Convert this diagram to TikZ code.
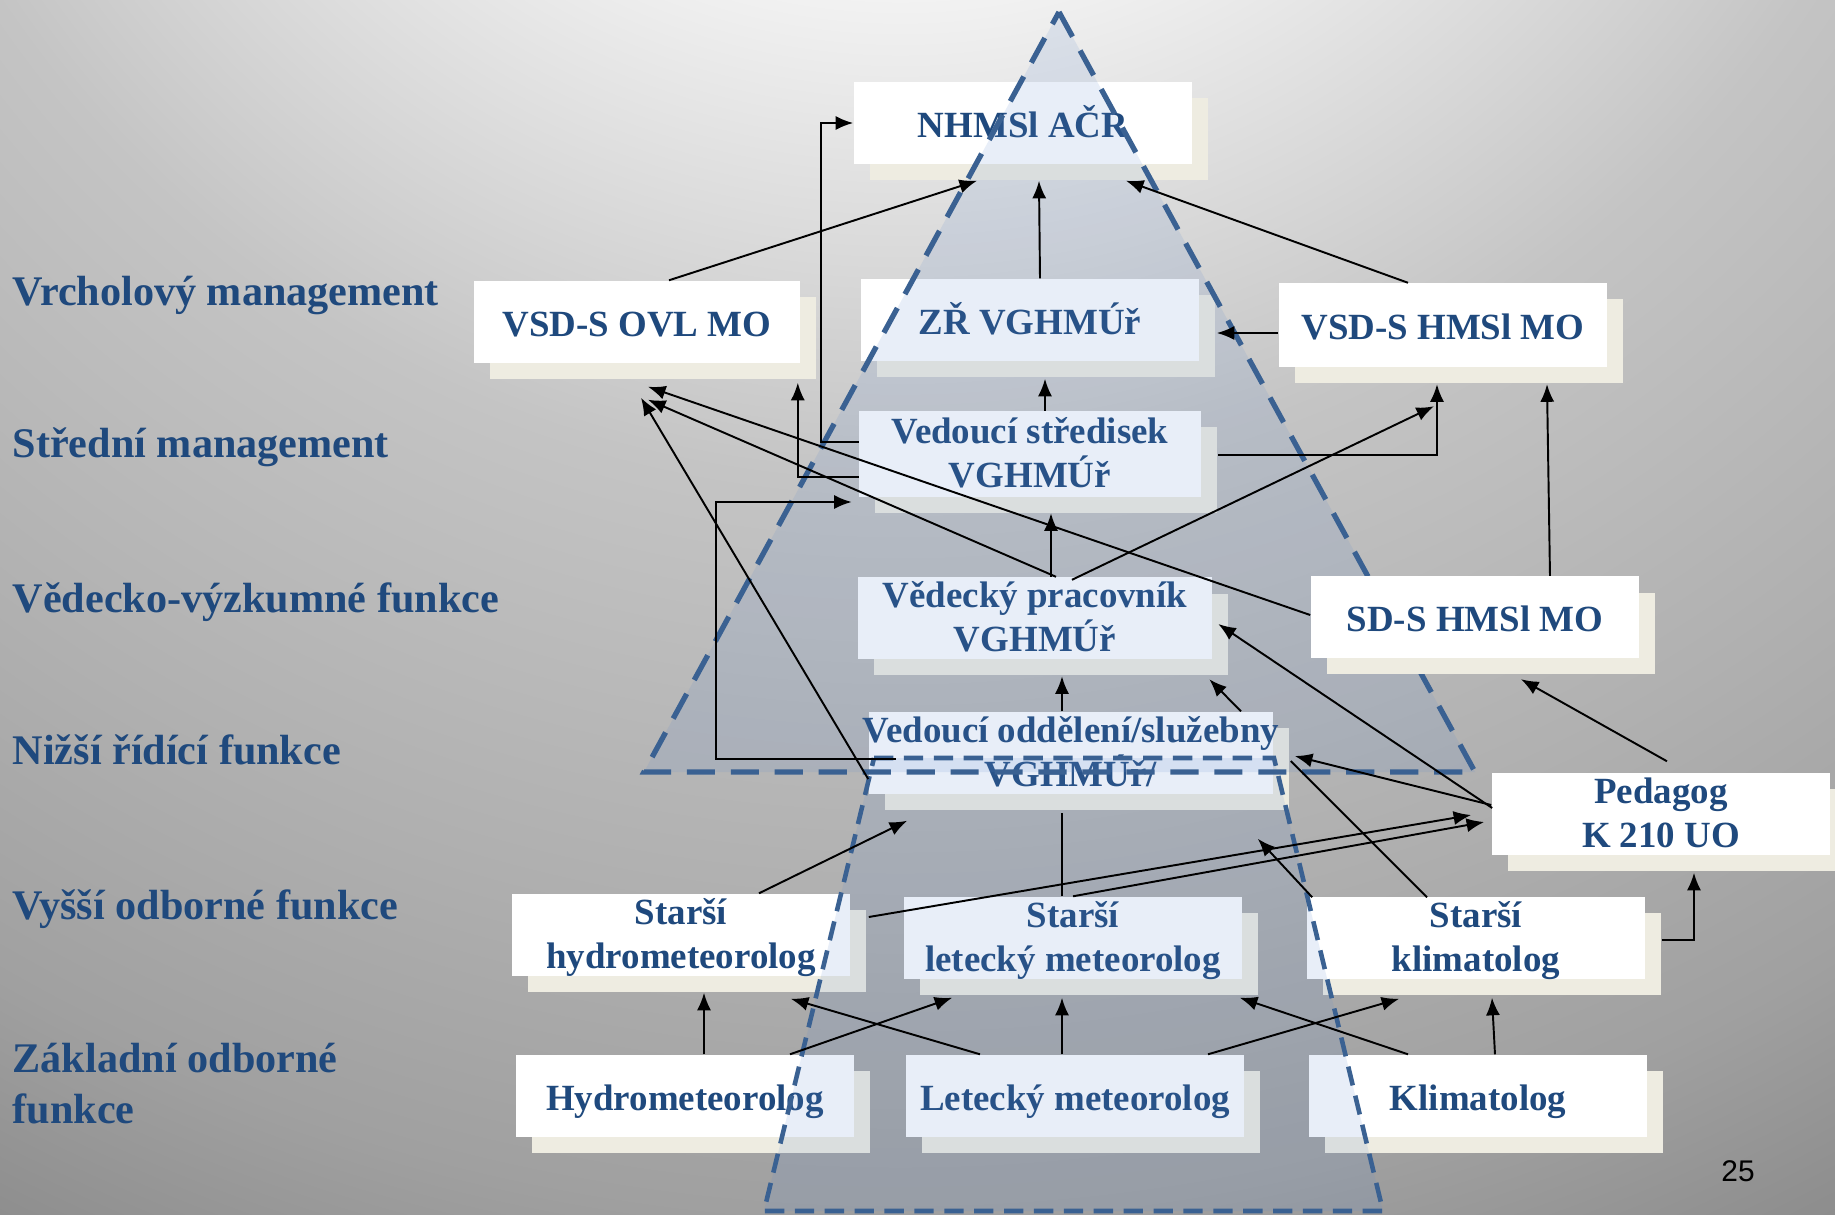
\documentclass[tikz,border=0pt]{standalone}
\usepackage{fontspec}
\setmainfont{Liberation Serif}
\newfontfamily\numfont{Liberation Sans}
\usetikzlibrary{arrows.meta,calc,shadows}
\definecolor{navytext}{HTML}{1F497D}
\definecolor{dashblue}{HTML}{3A6192}
\definecolor{shadowcream}{HTML}{EEECE1}
\definecolor{pyrfill}{HTML}{628CCE}
\definecolor{bgA}{HTML}{F7F7F7}
\definecolor{bgB}{HTML}{F2F2F2}
\definecolor{bgC}{HTML}{C4C4C4}
\definecolor{bgD}{HTML}{B0B0B0}
\definecolor{bgE}{HTML}{A0A0A0}
\definecolor{bgF}{HTML}{8E8E8E}
\definecolor{bgG}{HTML}{8A8A8A}
\pgfdeclareradialshading{slidebg}{\pgfpoint{0bp}{0bp}}{color(0bp)=(bgA); color(7.1bp)=(bgB);
	color(12.9bp)=(bgC); color(17.9bp)=(bgD); color(21.6bp)=(bgE); color(24.1bp)=(bgF); color(25bp)=(bgG); color(50bp)=(bgG)}

\begin{document}
\begin{tikzpicture}[x=0.01cm, y=-0.01cm,
	box/.style={fill=white, text=navytext, font=\fontsize{10.5}{12.5}\selectfont\bfseries,
		align=center, inner sep=0pt, minimum width=3.38cm, minimum height=0.82cm,
		general shadow={fill=shadowcream, shadow xshift=0.16cm, shadow yshift=-0.16cm}},
	oneline/.style={text height=8.4pt, text depth=0pt},
	twoline/.style={text height=19.7pt, text depth=0.5pt},
	level/.style={anchor=base west, text=navytext, font=\fontsize{12}{14.5}\selectfont\bfseries,
		align=left, inner sep=0pt},
	pyramid/.style={fill=pyrfill, fill opacity=0.14},
	arr/.style={-{Latex[length=5pt,width=4pt]}, line width=0.55pt},
	link/.style={line width=0.55pt}]
	% background
	\useasboundingbox (0,0) rectangle (1835,1214);
	\begin{scope}
	\clip (0,0) rectangle (1835,1214);
	\shade[shading=slidebg] (900,-600) circle [radius=21cm];
	\end{scope}
	% level labels
	\node[level] (lab1) at (12,305) {Vrcholový management};
	\node[level] (lab2) at (12,457) {Střední management};
	\node[level] (lab3) at (12,612) {Vědecko-výzkumné funkce};
	\node[level] (lab4) at (12,764) {Nižší řídící funkce};
	\node[level] (lab5) at (12,919) {Vyšší odborné funkce};
	\node[level] (lab6) at (12,1123) {Základní odborné\\funkce};
	% boxes under the pyramids
	\node[box, oneline] (nhm) at (1023,123) {NHMSl AČR};
	\node[box, oneline, minimum width=3.26cm] (ovl) at (637,322) {VSD-S OVL MO};
	\node[box, oneline] (zr) at (1030,320) {ZŘ VGHMÚř};
	\node[box, oneline, minimum width=3.28cm, minimum height=0.83cm] (hmsvsd) at (1443,325) {VSD-S HMSl MO};
	\node[box, twoline, minimum width=3.41cm, minimum height=0.85cm] (stred) at (1030,454) {Vedoucí středisek\\VGHMÚř};
	\node[box, twoline, minimum width=3.53cm, minimum height=0.81cm] (vedec) at (1035,618) {Vědecký pracovník\\VGHMÚř};
	\node[box, twoline, minimum width=4.04cm] (oddel) at (1071,753) {\makebox[3.9cm]{Vedoucí oddělení/služebny}\\VGHMÚř/};
	\node[box, twoline] (pedag) at (1661,814) {Pedagog\\K 210 UO};
	\node[box, twoline] (starhyd) at (681,935) {Starší\\hydrometeorolog};
	\node[box, twoline] (starlet) at (1073,938) {Starší\\letecký meteorolog};
	\node[box, twoline] (starkli) at (1476,938) {Starší\\klimatolog};
	\node[box, oneline] (hyd) at (685,1096) {Hydrometeorolog};
	\node[box, oneline] (let) at (1075,1096) {Letecký meteorolog};
	\node[box, oneline] (kli) at (1478,1096) {Klimatolog};
	% pyramids
	\fill[pyramid] (1059,12) -- (1475,772) -- (644,772) -- cycle;
	\fill[pyramid] (874,758) -- (1274,758) -- (1383,1211) -- (764,1211) -- cycle;
	\draw[dashblue, line width=1.5pt, dash pattern=on 8pt off 4.5pt] (1059,12) -- (1475,772) -- (644,772) -- cycle;
	\draw[dashblue, line width=1.3pt, dash pattern=on 5.5pt off 3pt] (874,758) -- (1274,758) -- (1383,1211) -- (764,1211) -- cycle;
	% box over the pyramid
	\node[box, oneline, minimum width=3.28cm, minimum height=0.81cm] (sdhms) at (1475,617) {SD-S HMSl MO};
	% arrows into NHMSl
	\draw[arr] ($(ovl.north)+(32,0)$) -- ($(nhm.south)+(-46,16)$);
	\draw[arr] ($(zr.north)+(10,0)$) -- ($(nhm.south)+(16,16)$);
	\draw[arr] ($(hmsvsd.north)+(-35,0)$) -- ($(nhm.south)+(103,16)$);
	\draw[arr] ($(stred.west)+(0,-12)$) -| ($(nhm.west)+(-32,0)$) -- (nhm.west);
	% arrows into management
	\draw[arr] ($(stred.west)+(0,23)$) -| ($(ovl.south east)+(-3,19)$);
	\draw[arr] ($(stred.north)+(15,0)$) -- ($(zr.south)+(15,17)$);
	\draw[arr] ($(hmsvsd.west)+(0,8)$) -- ($(zr.east)+(17,13)$);
	\draw[arr] ($(stred.east)+(17,1)$) -| ($(hmsvsd.south)+(-6,17)$);
	\draw[arr] ($(vedec.north)+(37,3)$) -- ($(hmsvsd.south)+(-9,39)$);
	\draw[arr] ($(vedec.north)+(16,0)$) -- ($(stred.south)+(21,16)$);
	\draw[arr] ($(vedec.north)+(21,0)$) -- ($(ovl.south)+(11,36)$);
	\draw[arr] ($(sdhms.west)+(0,-2)$) -- ($(ovl.south)+(11,23)$);
	\draw[arr] ($(oddel.west)+(0,26)$) -- ($(ovl.south)+(4,34)$);
	\draw[arr] ($(sdhms.north)+(75,0)$) -- ($(hmsvsd.south)+(104,17)$);
	\draw[arr] ($(oddel.west)+(28,6)$) -| ($(stred.west)+(-143,48)$) -- ($(stred.west)+(-7,48)$);
	% arrows into research and lower management
	\draw[arr] ($(oddel.north)+(-9,0)$) -- ($(vedec.south)+(27,17)$);
	\draw[arr] ($(oddel.north)+(170,0)$) -- ($(vedec.south east)+(-3,20)$);
	\draw[arr] ($(pedag.north)+(6,-11)$) -- ($(sdhms.south)+(46,21)$);
	\draw[arr] ($(pedag.west)+(1,-6)$) -- ($(vedec.east)+(6,6)$);
	\draw[arr] ($(pedag.west)+(0,-9)$) -- ($(oddel.east)+(21,3)$);
	\draw[link] ($(starkli.north)+(-49,1)$) -- ($(oddel.east)+(17,8)$);
	\draw[arr] ($(starkli.north west)+(6,1)$) -- ($(oddel.south east)+(-16,44)$);
	\draw[arr] ($(starhyd.north)+(78,0)$) -- ($(oddel.south west)+(39,26)$);
	\draw[arr] ($(starhyd.east)+(18,-18)$) -- ($(pedag.west)+(-20,1)$);
	\draw[arr] (starlet.north) -- ($(pedag.west)+(-7,8)$);
	\draw[link] ($(starlet.north)+(-11,0)$) -- ($(oddel.south)+(-9,18)$);
	\draw[arr] ($(starkli.east)+(16,2)$) -| ($(pedag.south)+(33,17)$);
	% arrows from basic functions
	\draw[arr] ($(hyd.north)+(19,0)$) -- ($(starhyd.south)+(23,16)$);
	\draw[arr] ($(hyd.north)+(105,0)$) -- ($(starlet.south west)+(49,18)$);
	\draw[arr] ($(let.north)+(-95,0)$) -- ($(starhyd.south east)+(-60,22)$);
	\draw[arr] ($(let.north)+(-13,0)$) -- ($(starlet.south)+(-11,18)$);
	\draw[arr] ($(let.north)+(133,0)$) -- ($(starkli.south west)+(93,19)$);
	\draw[arr] ($(kli.north)+(-70,0)$) -- ($(starlet.south east)+(-3,18)$);
	\draw[arr] ($(kli.north)+(17,0)$) -- ($(starkli.south)+(16,18)$);
	% page number
	\node[font=\numfont\fontsize{8.5}{10}\selectfont] (pagenum) at (1738,1171) {25};
\end{tikzpicture}
\end{document}
